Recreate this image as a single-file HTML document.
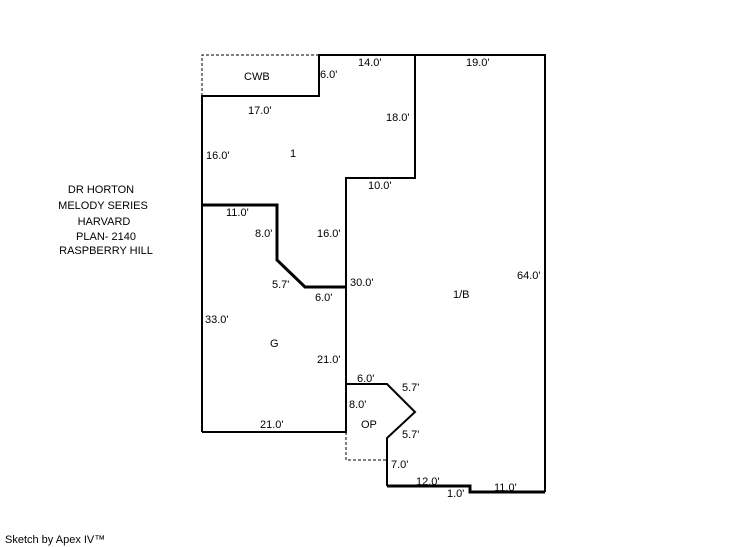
<!DOCTYPE html><html><head><style>body{margin:0;background:#fff}svg{display:block}text{font-family:"Liberation Sans",sans-serif;font-size:11px;fill:#000}</style></head><body>
<svg width="746" height="547" viewBox="0 0 746 547">
<g fill="none" stroke="#000">
<path d="M202 96V55H319M202 55" stroke-dasharray="3,2" stroke-width="1"/>
<path d="M346 432V460H387" stroke-dasharray="3,2" stroke-width="1"/>
<path d="M202 432V96H319V55H545V492M415 55V178H346V432H202" stroke-width="2"/>
<path d="M346 384H387L415 412L387 438V486" stroke-width="2"/>
<path d="M202 205H277V260L305 287H346" stroke-width="3"/>
<path d="M387 486H470V492H545" stroke-width="3"/>
</g>
<text x="244" y="80" font-size="12">CWB</text>
<text x="320" y="78">6.0'</text>
<text x="358" y="66">14.0'</text>
<text x="466" y="66">19.0'</text>
<text x="248" y="114">17.0'</text>
<text x="386" y="121">18.0'</text>
<text x="206" y="159">16.0'</text>
<text x="290" y="157" font-size="12">1</text>
<text x="368" y="189">10.0'</text>
<text x="226" y="216">11.0'</text>
<text x="255" y="237">8.0'</text>
<text x="317" y="237">16.0'</text>
<text x="272" y="288">5.7'</text>
<text x="350" y="286">30.0'</text>
<text x="315" y="301">6.0'</text>
<text x="517" y="279">64.0'</text>
<text x="453" y="298" font-size="12">1/B</text>
<text x="205" y="323">33.0'</text>
<text x="270" y="347" font-size="12">G</text>
<text x="317" y="363">21.0'</text>
<text x="357" y="382">6.0'</text>
<text x="402" y="391">5.7'</text>
<text x="349" y="408">8.0'</text>
<text x="361" y="428" font-size="12">OP</text>
<text x="260" y="428">21.0'</text>
<text x="402" y="438">5.7'</text>
<text x="391" y="468">7.0'</text>
<text x="416" y="485">12.0'</text>
<text x="494" y="491">11.0'</text>
<text x="447" y="497">1.0'</text>
<g font-size="13" text-anchor="middle"><text x="101" y="193">DR HORTON</text><text x="103" y="209">MELODY SERIES</text><text x="104" y="225">HARVARD</text><text x="106" y="240">PLAN- 2140</text><text x="106" y="254">RASPBERRY HILL</text></g>
<text x="5" y="543" font-size="8">Sketch by Apex IV™</text>
</svg></body></html>
